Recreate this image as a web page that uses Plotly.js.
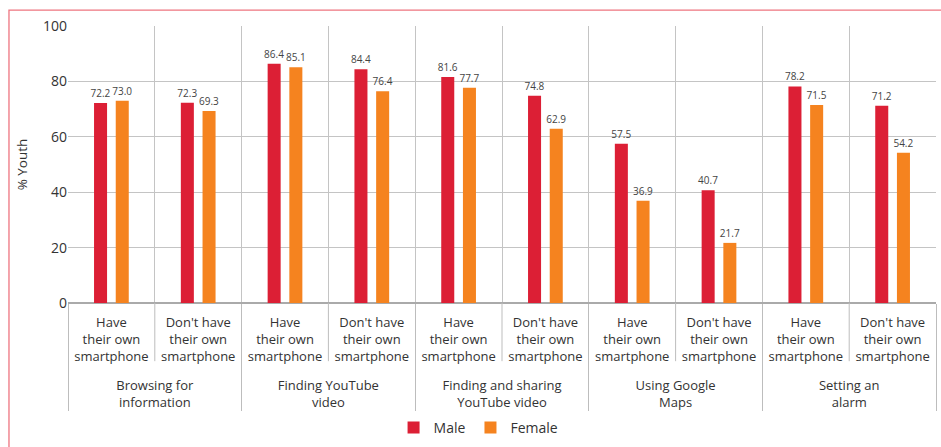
<!DOCTYPE html>
<html>
<head>
<meta charset="utf-8">
<script src="https://cdn.plot.ly/plotly-3.0.1.min.js"></script>
<style>html,body{margin:0;padding:0;background:#fff;}#chart{width:941px;height:447px;}</style>
</head>
<body>
<div id="chart"></div>
<script>
const activities = ["Browsing for<br>information", "Finding YouTube<br>video", "Finding and sharing<br>YouTube video", "Using Google<br>Maps", "Setting an<br>alarm"];
const ownership = ["Have<br>their own<br>smartphone", "Don't have<br>their own<br>smartphone"];
const maleValues = [72.2, 72.3, 86.4, 84.4, 81.6, 74.8, 57.5, 40.7, 78.2, 71.2];
const femaleValues = [73.0, 69.3, 85.1, 76.4, 77.7, 62.9, 36.9, 21.7, 71.5, 54.2];
const yTicks = [0, 20, 40, 60, 80, 100];

// an invisible trailing line gives the sub-labels more depth, so the group labels sit lower
const spacer = "<br><span style='font-size:22px'>&nbsp;</span>";
const parentCol = [], childCol = [];
activities.forEach(a => ownership.forEach(o => { parentCol.push(a); childCol.push(o + spacer); }));
const xCats = [parentCol, childCol];

const FONT = "Open Sans, Noto Sans, sans-serif";
const textFont = {family: FONT, size: 10, color: "#444"};
const clearLine = {color: "rgba(0,0,0,0)", width: 8};

const traces = [
  {type: "bar", name: "Male", x: xCats, y: maleValues, marker: {color: "#dc1f35", line: clearLine},
   texttemplate: "%{y:.1f}", textposition: "outside", constraintext: "none", textfont: textFont,
   cliponaxis: false, hoverinfo: "skip"},
  {type: "bar", name: "Female", x: xCats, y: femaleValues, marker: {color: "#f5831f", line: clearLine},
   texttemplate: "%{y:.1f}", textposition: "outside", constraintext: "none", textfont: textFont,
   cliponaxis: false, hoverinfo: "skip"}
];

// separators below the axis between sub-categories (boundary between each pair)
const shapes = [];
const n = childCol.length;
for (let k = 1; k < n; k += 2) {
  shapes.push({type: "line", xref: "paper", yref: "paper", x0: k / n, x1: k / n, y0: 0, y1: -0.21,
               line: {color: "#bdbdbd", width: 1}});
}
// outer pink frame
shapes.push({type: "rect", xref: "paper", yref: "paper", x0: -0.068, x1: 1.02, y0: -0.6, y1: 1.0576,
             line: {color: "#ee7580", width: 1.3}, fillcolor: "rgba(0,0,0,0)", layer: "below"});

const layout = {
  width: 941, height: 447,
  margin: {l: 68, r: 5, t: 26, b: 143},
  paper_bgcolor: "#fff", plot_bgcolor: "#fff",
  font: {family: FONT, color: "#333", size: 13},
  barmode: "group", bargap: 0.5, bargroupgap: 0.4,
  showlegend: true,
  legend: {orientation: "h", x: 0.473, xanchor: "center", y: -0.446, yanchor: "middle",
           font: {family: FONT, size: 14, color: "#333"}, itemwidth: 30, traceorder: "normal"},
  xaxis: {type: "multicategory", tickson: "boundaries", showgrid: true, gridcolor: "#c4c4c4", gridwidth: 1,
          ticks: "", ticklabelstandoff: 10,
          showdividers: true, dividercolor: "#bdbdbd", dividerwidth: 1,
          tickfont: {family: FONT, size: 13, color: "#333"}, showline: false, zeroline: false},
  yaxis: {range: [0, 100], tickvals: yTicks, ticktext: yTicks.map(String), showgrid: true, gridcolor: "#c4c4c4",
          zeroline: true, zerolinecolor: "#aaaaaa", zerolinewidth: 1.3, showline: false, ticks: "",
          tickfont: {family: FONT, size: 14, color: "#333"},
          title: {text: "% Youth", font: {family: FONT, size: 13.5, color: "#333"}, standoff: 12}},
  shapes: shapes
};

Plotly.newPlot("chart", traces, layout, {displayModeBar: false, staticPlot: true});
</script>
</body>
</html>
